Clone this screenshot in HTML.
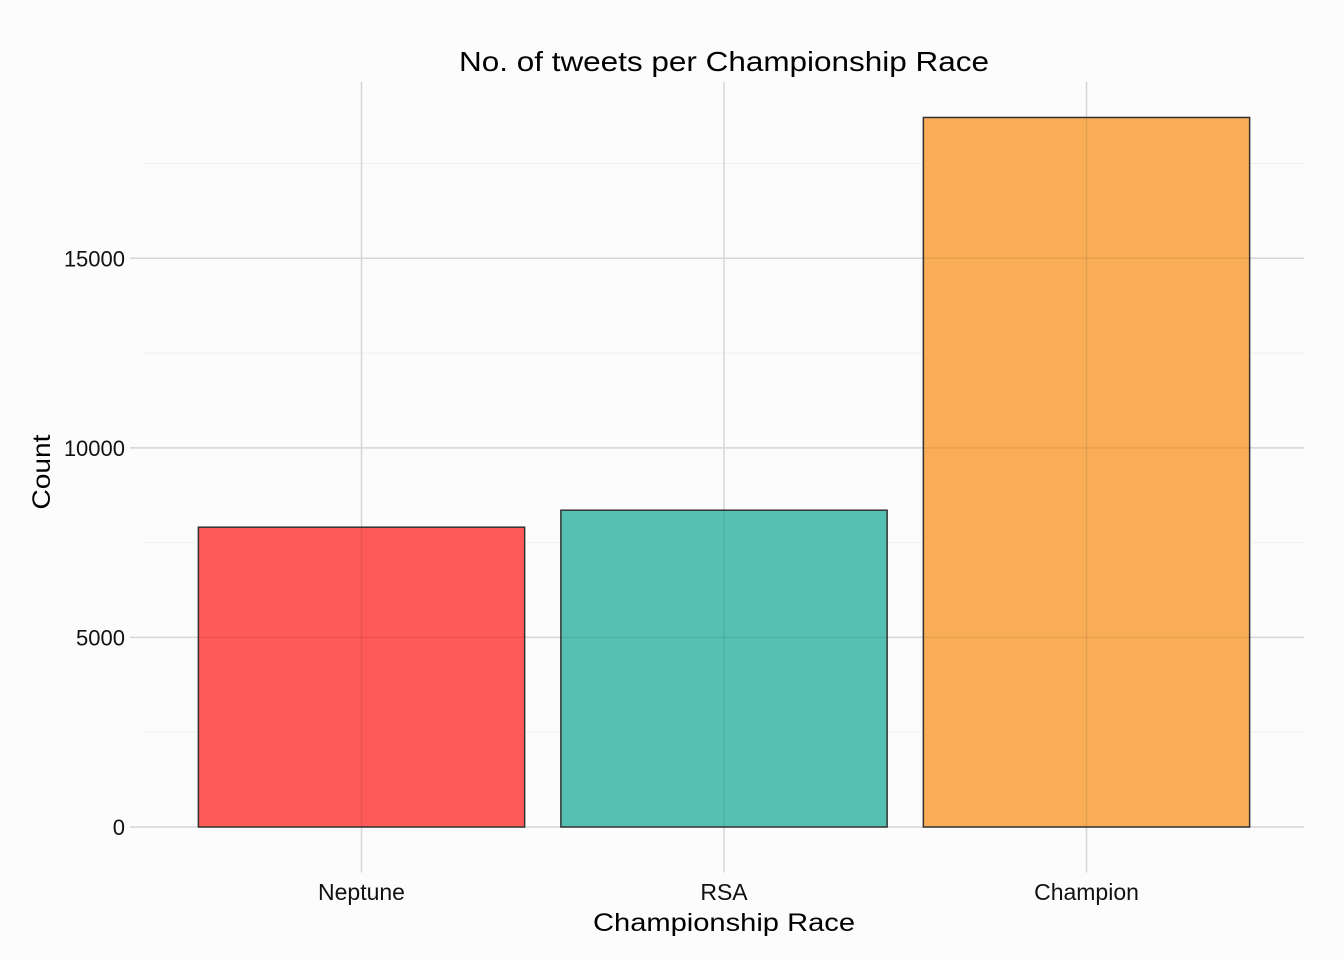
<!DOCTYPE html>
<html><head><meta charset="utf-8"><style>
html,body{margin:0;padding:0;background:#fcfcfc}
svg{display:block;font-family:"Liberation Sans",Arial,sans-serif}
</style></head><body>
<svg id="chart" width="1344" height="960" xmlns="http://www.w3.org/2000/svg">
<rect x="0" y="0" width="1344" height="960" fill="#fcfcfc"/>
<g id="grid"></g>
<g id="bars"></g>
<g id="overgrid"></g>
<g id="labels"></g>
<text x="724" y="71" text-anchor="middle" font-size="28" textLength="530" lengthAdjust="spacingAndGlyphs" fill="#000">No. of tweets per Championship Race</text>
<text x="724" y="931" text-anchor="middle" font-size="25" textLength="262" lengthAdjust="spacingAndGlyphs" fill="#000">Championship Race</text>
<text transform="translate(50,472) rotate(-90)" text-anchor="middle" font-size="25" textLength="75" lengthAdjust="spacingAndGlyphs" fill="#000">Count</text>
</svg>
<script>
const categories = ["Neptune","RSA","Champion"];
const counts = [7907, 8355, 18713];
const colors = ["#ff5a5a","#56c0b2","#f9ad57"];
const yTicks = [0,5000,10000,15000];
const yMinor = [2500,7500,12500,17500];

const NS="http://www.w3.org/2000/svg";
const L=144,R=1304,T=82;
const maxV=Math.max(...counts)*1.05;
const y0=827, pxPer=(y0-T)/maxV;
const y=v=>y0-v*pxPer;
const B=y(-Math.max(...counts)*0.05);
const step=(R-L)/(categories.length+0.2);
const x=i=>L+step*(0.6+i);
function mk(tag,attrs,parent){const e=document.createElementNS(NS,tag);for(const k in attrs)e.setAttribute(k,attrs[k]);parent.appendChild(e);return e;}
const grid=document.getElementById('grid'),bars=document.getElementById('bars'),og=document.getElementById('overgrid'),lab=document.getElementById('labels');
yMinor.forEach(v=>{if(v>maxV)return;const l=mk('line',{x1:L,x2:R,y1:y(v),y2:y(v),stroke:'#f0f0f0','stroke-width':1},grid);

});
yTicks.forEach(v=>{const l=mk('line',{x1:L-14,x2:R,y1:y(v),y2:y(v),stroke:'#d6d6d6','stroke-width':1.5},grid);


const t=mk('text',{x:125,y:y(v)+8,'text-anchor':'end','font-size':22,fill:'#111'},lab);t.textContent=v;

});
categories.forEach((c,i)=>{const l=mk('line',{x1:x(i),x2:x(i),y1:T,y2:B+10,stroke:'#d6d6d6','stroke-width':1.5},grid);


const w=step*0.9;
const r=mk('rect',{x:x(i)-w/2,y:y(counts[i]),width:w,height:y(0)-y(counts[i]),fill:colors[i],stroke:'#333','stroke-width':1.5},bars);


const l2=mk('line',{x1:x(i),x2:x(i),y1:y(counts[i]),y2:y(0),stroke:'#000','stroke-opacity':0.08,'stroke-width':1.5},og);


const t=mk('text',{x:x(i),y:900,'text-anchor':'middle','font-size':23,fill:'#111'},lab);t.textContent=c;

});
yTicks.forEach(v=>{if(v===0)return;categories.forEach((c,i)=>{if(v<counts[i]){const w=step*0.9;const l=mk('line',{x1:x(i)-w/2,x2:x(i)+w/2,y1:y(v),y2:y(v),stroke:'#000','stroke-opacity':0.07,'stroke-width':1.5},og);

}});});
</script>
</body></html>
